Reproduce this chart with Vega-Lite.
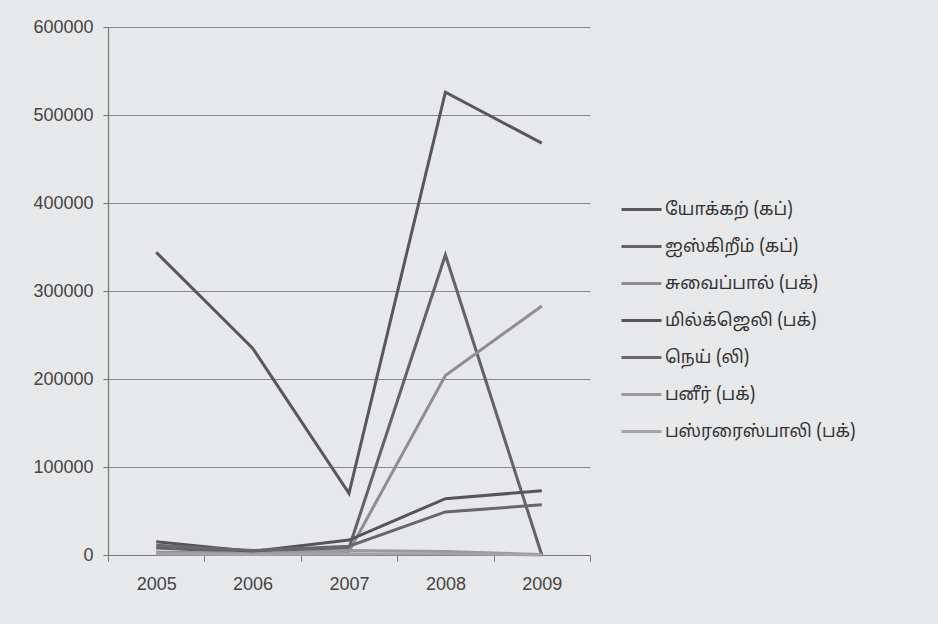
{
  "$schema": "https://vega.github.io/schema/vega-lite/v6.json",
  "width": 482,
  "height": 528,
  "autosize": {"type": "none"},
  "padding": {"left": 108, "top": 27, "right": 348, "bottom": 69},
  "background": "#e7e8ea",
  "data": {"values": [
    {"year": "2005", "item": "யோக்கற் (கப்)", "value": 344000},
    {"year": "2006", "item": "யோக்கற் (கப்)", "value": 235000},
    {"year": "2007", "item": "யோக்கற் (கப்)", "value": 70000},
    {"year": "2008", "item": "யோக்கற் (கப்)", "value": 526000},
    {"year": "2009", "item": "யோக்கற் (கப்)", "value": 468000},
    {"year": "2005", "item": "ஐஸ்கிறீம் (கப்)", "value": 8000},
    {"year": "2006", "item": "ஐஸ்கிறீம் (கப்)", "value": 3000},
    {"year": "2007", "item": "ஐஸ்கிறீம் (கப்)", "value": 8000},
    {"year": "2008", "item": "ஐஸ்கிறீம் (கப்)", "value": 341000},
    {"year": "2009", "item": "ஐஸ்கிறீம் (கப்)", "value": 0},
    {"year": "2005", "item": "சுவைப்பால் (பக்)", "value": 3000},
    {"year": "2006", "item": "சுவைப்பால் (பக்)", "value": 2000},
    {"year": "2007", "item": "சுவைப்பால் (பக்)", "value": 4000},
    {"year": "2008", "item": "சுவைப்பால் (பக்)", "value": 204000},
    {"year": "2009", "item": "சுவைப்பால் (பக்)", "value": 283000},
    {"year": "2005", "item": "மில்க்ஜெலி (பக்)", "value": 15000},
    {"year": "2006", "item": "மில்க்ஜெலி (பக்)", "value": 4000},
    {"year": "2007", "item": "மில்க்ஜெலி (பக்)", "value": 17000},
    {"year": "2008", "item": "மில்க்ஜெலி (பக்)", "value": 64000},
    {"year": "2009", "item": "மில்க்ஜெலி (பக்)", "value": 73000},
    {"year": "2005", "item": "நெய் (லி)", "value": 11000},
    {"year": "2006", "item": "நெய் (லி)", "value": 5000},
    {"year": "2007", "item": "நெய் (லி)", "value": 10000},
    {"year": "2008", "item": "நெய் (லி)", "value": 49000},
    {"year": "2009", "item": "நெய் (லி)", "value": 57000},
    {"year": "2005", "item": "பனீர் (பக்)", "value": 2000},
    {"year": "2006", "item": "பனீர் (பக்)", "value": 1000},
    {"year": "2007", "item": "பனீர் (பக்)", "value": 5000},
    {"year": "2008", "item": "பனீர் (பக்)", "value": 4000},
    {"year": "2009", "item": "பனீர் (பக்)", "value": 500},
    {"year": "2005", "item": "பஸ்ரரைஸ்பாலி (பக்)", "value": 1000},
    {"year": "2006", "item": "பஸ்ரரைஸ்பாலி (பக்)", "value": 500},
    {"year": "2007", "item": "பஸ்ரரைஸ்பாலி (பக்)", "value": 1000},
    {"year": "2008", "item": "பஸ்ரரைஸ்பாலி (பக்)", "value": 1500},
    {"year": "2009", "item": "பஸ்ரரைஸ்பாலி (பக்)", "value": 0}
  ]},
  "mark": {"type": "line", "strokeWidth": 3},
  "encoding": {
    "x": {
      "field": "year", "type": "ordinal",
      "scale": {"type": "band", "paddingInner": 0, "paddingOuter": 0},
      "axis": {
        "title": null, "labelAngle": 0, "labelFont": "Liberation Sans", "labelFontSize": 18,
        "labelColor": "#444", "labelPadding": 14, "tickBand": "extent", "tickSize": 6,
        "tickColor": "#777", "domainColor": "#777", "domainWidth": 1.2, "grid": false
      }
    },
    "y": {
      "field": "value", "type": "quantitative",
      "scale": {"domain": [0, 600000], "nice": false},
      "axis": {
        "title": null, "values": [0, 100000, 200000, 300000, 400000, 500000, 600000],
        "format": "d", "labelFont": "Liberation Sans", "labelFontSize": 18, "labelColor": "#444",
        "labelPadding": 10, "tickSize": 5, "tickColor": "#777", "domainColor": "#777",
        "domainWidth": 1.2, "grid": true, "gridColor": "#8a8a8a", "gridWidth": 1
      }
    },
    "color": {
      "field": "item", "type": "nominal",
      "scale": {
        "domain": ["யோக்கற் (கப்)", "ஐஸ்கிறீம் (கப்)", "சுவைப்பால் (பக்)", "மில்க்ஜெலி (பக்)", "நெய் (லி)", "பனீர் (பக்)", "பஸ்ரரைஸ்பாலி (பக்)"],
        "range": ["#58575c", "#636267", "#8e8e92", "#57535d", "#6a666d", "#9a9a9d", "#a3a3a8"]
      },
      "sort": null,
      "legend": {
        "title": null, "orient": "none", "legendX": 512, "legendY": 161,
        "symbolType": "stroke", "symbolSize": 1600, "symbolStrokeWidth": 3,
        "labelFont": "Noto Sans Tamil, Lohit Tamil, FreeSans, FreeSerif, Noto Sans, sans-serif",
        "labelFontSize": 17.5, "labelColor": "#333",
        "rowPadding": 7, "labelOffset": 2, "labelLimit": 300
      }
    }
  },
  "config": {"view": {"stroke": null}}
}
